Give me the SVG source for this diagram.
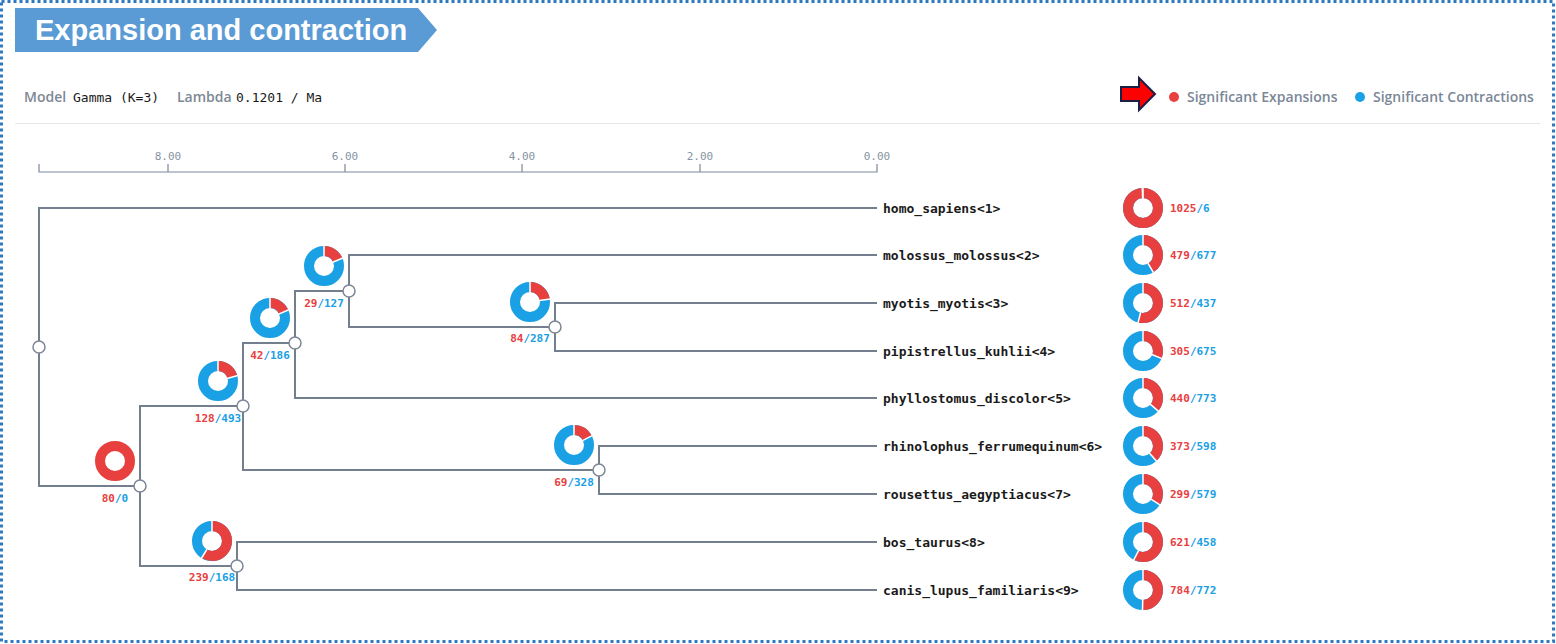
<svg xmlns="http://www.w3.org/2000/svg" xmlns:xlink="http://www.w3.org/1999/xlink" width="1556" height="644" viewBox="0 0 1556 644">
<style>
.frame{fill:none;stroke:#2f78c4;stroke-width:3;stroke-dasharray:3 3}
.title{font-family:"Liberation Sans",Arial,sans-serif;font-weight:bold;font-size:29px;fill:#fff}
.hk{font-family:"Open Sans","Liberation Sans",sans-serif;font-size:14px;font-weight:600;fill:#7d8895}
.hv{font-family:"DejaVu Sans Mono","Liberation Mono",monospace;font-size:13px;fill:#1a1a1a}
.lg{font-family:"Open Sans","Liberation Sans",sans-serif;font-size:14px;font-weight:600;fill:#7b8797}
.ax{font-family:"DejaVu Sans Mono","Liberation Mono",monospace;font-size:11px;fill:#8693a3;text-anchor:middle}
.axl{stroke:#7a8a9e;stroke-width:1.2;fill:none}
.edge{fill:none;stroke:#737e8f;stroke-width:2}
.nd{fill:#fff;stroke:#7d8696;stroke-width:1.5}
.leaf{font-family:"DejaVu Sans Mono","Liberation Mono",monospace;font-size:13px;font-weight:bold;fill:#1a1a1a}
.num{font-family:"DejaVu Sans Mono","Liberation Mono",monospace;font-size:11px;font-weight:bold}
.ctr{text-anchor:middle}
.r{fill:#e8403f}
.b{fill:#1aa0e4}
.cb{fill:none;stroke:#1aa0e4;stroke-width:10}
.cr{fill:none;stroke:#e8403f;stroke-width:10}
</style>
<defs>
<line id="sep" x1="0" y1="-9.5" x2="0" y2="-20.5" stroke="#fff" stroke-width="1.5"/>
</defs>
<rect width="1556" height="644" fill="#fff"/>
<rect class="frame" x="1.5" y="1.5" width="1552" height="640"/>

<g id="title">
<polygon points="15,8 418,8 437,30 418,52 15,52" fill="#5b9bd5"/>
<text class="title" x="35" y="40">Expansion and contraction</text>
</g>

<g id="header">
<text x="24" y="102"><tspan class="hk">Model</tspan></text>
<text class="hv" x="73" y="102">Gamma (K=3)</text>
<text x="177" y="102"><tspan class="hk">Lambda</tspan></text>
<text class="hv" x="236" y="102">0.1201 / Ma</text>
<line x1="15" y1="123.5" x2="1540" y2="123.5" stroke="#e3e6ea" stroke-width="1"/>
</g>

<g id="legend">
<polygon points="1121,87 1139,87 1139,78 1155,94 1139,110 1139,101 1121,101" fill="#ff0000" stroke="#1c1f45" stroke-width="2" stroke-linejoin="miter"/>
<circle cx="1174" cy="97" r="5" class="r"/>
<text class="lg" x="1187" y="102">Significant Expansions</text>
<circle cx="1360" cy="97" r="5" class="b"/>
<text class="lg" x="1373" y="102">Significant Contractions</text>
</g>

<g id="axis">
<path class="axl" d="M39,164 V172 H877 V164 M168,164 V172 M345,164 V172 M522,164 V172 M700,164 V172"/>
<text class="ax" x="168" y="160">8.00</text>
<text class="ax" x="345" y="160">6.00</text>
<text class="ax" x="522" y="160">4.00</text>
<text class="ax" x="700" y="160">2.00</text>
<text class="ax" x="877" y="160">0.00</text>
</g>

<g id="connectors">
<path class="edge" d="M877,208 H39 V486 H140"/>
<path class="edge" d="M243,406 H140 V566 H237"/>
<path class="edge" d="M295,343 H243 V470 H599"/>
<path class="edge" d="M349,291 H295 V398 H877"/>
<path class="edge" d="M877,255 H349 V327 H555"/>
<path class="edge" d="M877,303 H555 V351 H877"/>
<path class="edge" d="M877,446 H599 V494 H877"/>
<path class="edge" d="M877,542 H237 V590 H877"/>
</g>

<g id="node-root"><circle class="nd" cx="39" cy="347" r="6"/></g>

<g id="node-a">
<g transform="translate(115,461)"><circle r="15" class="cr"/></g>
<circle class="nd" cx="140" cy="486" r="6"/>
<text class="num ctr" x="115" y="502"><tspan class="r">80</tspan><tspan class="b">/0</tspan></text>
</g>

<g id="node-b">
<g transform="translate(218,381)"><circle r="15" class="cb"/><circle r="15" class="cr" pathLength="100" stroke-dasharray="20.612 100" transform="rotate(-90)"/><use href="#sep"/><use href="#sep" transform="rotate(74.2)"/></g>
<circle class="nd" cx="243" cy="406" r="6"/>
<text class="num ctr" x="218" y="422"><tspan class="r">128</tspan><tspan class="b">/493</tspan></text>
</g>

<g id="node-c">
<g transform="translate(270,318)"><circle r="15" class="cb"/><circle r="15" class="cr" pathLength="100" stroke-dasharray="18.421 100" transform="rotate(-90)"/><use href="#sep"/><use href="#sep" transform="rotate(66.3)"/></g>
<circle class="nd" cx="295" cy="343" r="6"/>
<text class="num ctr" x="270" y="359"><tspan class="r">42</tspan><tspan class="b">/186</tspan></text>
</g>

<g id="node-d">
<g transform="translate(324,266)"><circle r="15" class="cb"/><circle r="15" class="cr" pathLength="100" stroke-dasharray="18.590 100" transform="rotate(-90)"/><use href="#sep"/><use href="#sep" transform="rotate(66.9)"/></g>
<circle class="nd" cx="349" cy="291" r="6"/>
<text class="num ctr" x="324" y="307"><tspan class="r">29</tspan><tspan class="b">/127</tspan></text>
</g>

<g id="node-e">
<g transform="translate(530,302)"><circle r="15" class="cb"/><circle r="15" class="cr" pathLength="100" stroke-dasharray="22.642 100" transform="rotate(-90)"/><use href="#sep"/><use href="#sep" transform="rotate(81.5)"/></g>
<circle class="nd" cx="555" cy="327" r="6"/>
<text class="num ctr" x="530" y="342"><tspan class="r">84</tspan><tspan class="b">/287</tspan></text>
</g>

<g id="node-f">
<g transform="translate(574,445)"><circle r="15" class="cb"/><circle r="15" class="cr" pathLength="100" stroke-dasharray="17.380 100" transform="rotate(-90)"/><use href="#sep"/><use href="#sep" transform="rotate(62.6)"/></g>
<circle class="nd" cx="599" cy="470" r="6"/>
<text class="num ctr" x="574" y="486"><tspan class="r">69</tspan><tspan class="b">/328</tspan></text>
</g>

<g id="node-g">
<g transform="translate(212,541)"><circle r="15" class="cb"/><circle r="15" class="cr" pathLength="100" stroke-dasharray="58.722 100" transform="rotate(-90)"/><use href="#sep"/><use href="#sep" transform="rotate(211.4)"/></g>
<circle class="nd" cx="237" cy="566" r="6"/>
<text class="num ctr" x="212" y="581"><tspan class="r">239</tspan><tspan class="b">/168</tspan></text>
</g>

<g id="leaf-1">
<text class="leaf" x="883" y="213">homo_sapiens&lt;1&gt;</text>
<g transform="translate(1143,208)"><circle r="15" class="cb"/><circle r="15" class="cr" pathLength="100" stroke-dasharray="99.418 100" transform="rotate(-90)"/><use href="#sep"/><use href="#sep" transform="rotate(357.9)"/></g>
<text class="num" x="1170" y="212"><tspan class="r">1025</tspan><tspan class="b">/6</tspan></text>
</g>

<g id="leaf-2">
<text class="leaf" x="883" y="260">molossus_molossus&lt;2&gt;</text>
<g transform="translate(1143,255)"><circle r="15" class="cb"/><circle r="15" class="cr" pathLength="100" stroke-dasharray="41.436 100" transform="rotate(-90)"/><use href="#sep"/><use href="#sep" transform="rotate(149.2)"/></g>
<text class="num" x="1170" y="259"><tspan class="r">479</tspan><tspan class="b">/677</tspan></text>
</g>

<g id="leaf-3">
<text class="leaf" x="883" y="308">myotis_myotis&lt;3&gt;</text>
<g transform="translate(1143,303)"><circle r="15" class="cb"/><circle r="15" class="cr" pathLength="100" stroke-dasharray="53.952 100" transform="rotate(-90)"/><use href="#sep"/><use href="#sep" transform="rotate(194.2)"/></g>
<text class="num" x="1170" y="307"><tspan class="r">512</tspan><tspan class="b">/437</tspan></text>
</g>

<g id="leaf-4">
<text class="leaf" x="883" y="356">pipistrellus_kuhlii&lt;4&gt;</text>
<g transform="translate(1143,351)"><circle r="15" class="cb"/><circle r="15" class="cr" pathLength="100" stroke-dasharray="31.122 100" transform="rotate(-90)"/><use href="#sep"/><use href="#sep" transform="rotate(112.0)"/></g>
<text class="num" x="1170" y="355"><tspan class="r">305</tspan><tspan class="b">/675</tspan></text>
</g>

<g id="leaf-5">
<text class="leaf" x="883" y="403">phyllostomus_discolor&lt;5&gt;</text>
<g transform="translate(1143,398)"><circle r="15" class="cb"/><circle r="15" class="cr" pathLength="100" stroke-dasharray="36.274 100" transform="rotate(-90)"/><use href="#sep"/><use href="#sep" transform="rotate(130.6)"/></g>
<text class="num" x="1170" y="402"><tspan class="r">440</tspan><tspan class="b">/773</tspan></text>
</g>

<g id="leaf-6">
<text class="leaf" x="883" y="451">rhinolophus_ferrumequinum&lt;6&gt;</text>
<g transform="translate(1143,446)"><circle r="15" class="cb"/><circle r="15" class="cr" pathLength="100" stroke-dasharray="38.414 100" transform="rotate(-90)"/><use href="#sep"/><use href="#sep" transform="rotate(138.3)"/></g>
<text class="num" x="1170" y="450"><tspan class="r">373</tspan><tspan class="b">/598</tspan></text>
</g>

<g id="leaf-7">
<text class="leaf" x="883" y="499">rousettus_aegyptiacus&lt;7&gt;</text>
<g transform="translate(1143,494)"><circle r="15" class="cb"/><circle r="15" class="cr" pathLength="100" stroke-dasharray="34.055 100" transform="rotate(-90)"/><use href="#sep"/><use href="#sep" transform="rotate(122.6)"/></g>
<text class="num" x="1170" y="498"><tspan class="r">299</tspan><tspan class="b">/579</tspan></text>
</g>

<g id="leaf-8">
<text class="leaf" x="883" y="547">bos_taurus&lt;8&gt;</text>
<g transform="translate(1143,542)"><circle r="15" class="cb"/><circle r="15" class="cr" pathLength="100" stroke-dasharray="57.553 100" transform="rotate(-90)"/><use href="#sep"/><use href="#sep" transform="rotate(207.2)"/></g>
<text class="num" x="1170" y="546"><tspan class="r">621</tspan><tspan class="b">/458</tspan></text>
</g>

<g id="leaf-9">
<text class="leaf" x="883" y="595">canis_lupus_familiaris&lt;9&gt;</text>
<g transform="translate(1143,590)"><circle r="15" class="cb"/><circle r="15" class="cr" pathLength="100" stroke-dasharray="50.386 100" transform="rotate(-90)"/><use href="#sep"/><use href="#sep" transform="rotate(181.4)"/></g>
<text class="num" x="1170" y="594"><tspan class="r">784</tspan><tspan class="b">/772</tspan></text>
</g>
</svg>
